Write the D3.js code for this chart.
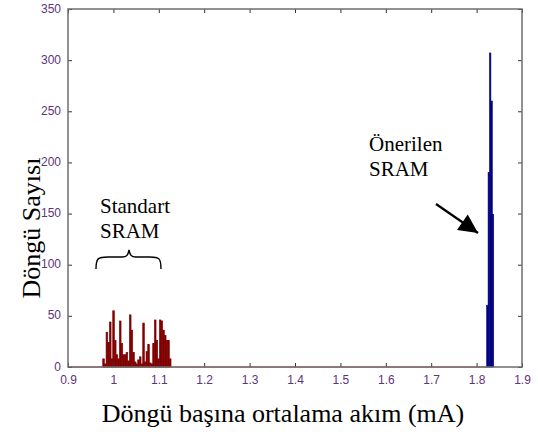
<!DOCTYPE html>
<html lang="tr">
<head>
  <meta charset="UTF-8">
  <title>Döngü Sayısı</title>
  <style>
    body { margin: 0; background: #fff; }
    svg { display: block; }
    .tick text { font: 12px "Liberation Sans", Arial, sans-serif; fill: #5e3478; }
    .note { font-family: "Liberation Serif", "Times New Roman", serif; fill: #000; }
  </style>
</head>
<body>
  <div id="chart"></div>
  <script src="https://d3js.org/d3.v7.min.js"></script>
  <script>
    // histogram data
    const xTicks = [0.9, 1, 1.1, 1.2, 1.3, 1.4, 1.5, 1.6, 1.7, 1.8, 1.9];
    const yTicks = [0, 50, 100, 150, 200, 250, 300, 350];

    // standart SRAM bins
    const redStart = 0.9765;
    const redWidth = 0.00367;
    const redCounts = [8, 3, 34, 24, 44, 8, 55, 26, 12, 8, 45, 23, 12, 12, 14, 6, 51, 36, 14, 5,
      3, 7, 10, 3, 43, 5, 15, 22, 4, 3, 23, 46, 26, 8, 46, 45, 36, 31, 26, 26, 8];

    // önerilen SRAM bins
    const blueStart = 1.8222;
    const blueWidth = 0.0031;
    const blueCounts = [60, 190, 307, 260, 149];

    const width = 538, height = 434;
    const margin = { top: 9, right: 16, bottom: 67, left: 68 };
    const iw = width - margin.left - margin.right;
    const ih = height - margin.top - margin.bottom;

    const x = d3.scaleLinear().domain([0.9, 1.9]).range([0, iw]);
    const y = d3.scaleLinear().domain([0, 350]).range([ih, 0]);

    const svg = d3.select('#chart').append('svg')
      .attr('width', width)
      .attr('height', height);

    const g = svg.append('g')
      .attr('transform', `translate(${margin.left},${margin.top})`);

    const redBins = redCounts.map((c, i) => ({ x0: redStart + i * redWidth, x1: redStart + (i + 1) * redWidth, c }));
    const blueBins = blueCounts.map((c, i) => ({ x0: blueStart + i * blueWidth, x1: blueStart + (i + 1) * blueWidth, c }));

    // zero line of the red series
    g.append('line')
      .attr('x1', x(0.9)).attr('x2', x(blueStart))
      .attr('y1', y(0)).attr('y2', y(0))
      .attr('stroke', '#c04040')
      .attr('stroke-width', 1);

    function drawBins(bins, color) {
      g.append('g').selectAll('rect')
        .data(bins)
        .enter().append('rect')
        .attr('x', d => x(d.x0))
        .attr('width', d => x(d.x1) - x(d.x0))
        .attr('y', d => y(d.c))
        .attr('height', d => y(0) - y(d.c))
        .attr('fill', color)
        .attr('stroke', color)
        .attr('stroke-width', 0.6);
    }
    drawBins(redBins, '#800000');
    drawBins(blueBins, '#000080');

    // axes (ticks inside like matlab)
    g.append('g')
      .attr('transform', `translate(0,${ih})`)
      .call(d3.axisBottom(x).tickValues(xTicks).tickSize(-4).tickPadding(8).tickFormat(d3.format('')));
    const yAxis = g.append('g')
      .call(d3.axisLeft(y).tickValues(yTicks).tickSize(-4).tickPadding(7));
    g.append('g')
      .call(d3.axisTop(x).tickValues(xTicks).tickSize(-4).tickFormat(''));
    g.append('g')
      .attr('transform', `translate(${iw},0)`)
      .call(d3.axisRight(y).tickValues(yTicks).tickSize(-4).tickFormat(''));

    g.selectAll('.domain').remove();
    g.selectAll('.tick line').attr('stroke', '#333');
    yAxis.selectAll('.tick text').attr('dy', '0.25em');

    // box
    g.append('rect')
      .attr('width', iw).attr('height', ih)
      .attr('fill', 'none')
      .attr('stroke', '#6e6e6e')
      .attr('stroke-width', 1.5);

    // axis titles
    svg.append('text')
      .attr('class', 'note')
      .attr('x', 283).attr('y', 422)
      .attr('text-anchor', 'middle')
      .style('font-size', '26px')
      .text('Döngü başına ortalama akım (mA)');

    svg.append('text')
      .attr('class', 'note')
      .attr('transform', 'translate(40,228) rotate(-90)')
      .attr('text-anchor', 'middle')
      .style('font-size', '26px')
      .text('Döngü Sayısı');

    // annotations
    svg.append('text').attr('class', 'note')
      .attr('x', 100).attr('y', 213).style('font-size', '21px').text('Standart');
    svg.append('text').attr('class', 'note')
      .attr('x', 100).attr('y', 238).style('font-size', '21px').text('SRAM');

    svg.append('path')
      .attr('d', 'M96,269 C96,258 98,257 108,257 L122,257 C127,257 128,255 129,250 C130,255 131,257 136,257 L150,257 C159,257 161,258 161,269')
      .attr('fill', 'none')
      .attr('stroke', '#000')
      .attr('stroke-width', 1.4);

    svg.append('text').attr('class', 'note')
      .attr('x', 369).attr('y', 151).style('font-size', '21px').text('Önerilen');
    svg.append('text').attr('class', 'note')
      .attr('x', 369).attr('y', 176).style('font-size', '21px').text('SRAM');

    svg.append('defs').append('marker')
      .attr('id', 'head')
      .attr('viewBox', '0 0 10 10')
      .attr('refX', 10).attr('refY', 5)
      .attr('markerWidth', 24).attr('markerHeight', 19)
      .attr('markerUnits', 'userSpaceOnUse')
      .attr('orient', 'auto')
      .append('path')
      .attr('d', 'M0,0 L10,5 L0,10 Z');

    svg.append('line')
      .attr('x1', 436).attr('y1', 204)
      .attr('x2', 478).attr('y2', 233)
      .attr('stroke', '#000')
      .attr('stroke-width', 2.2)
      .attr('marker-end', 'url(#head)');
  </script>
</body>
</html>
